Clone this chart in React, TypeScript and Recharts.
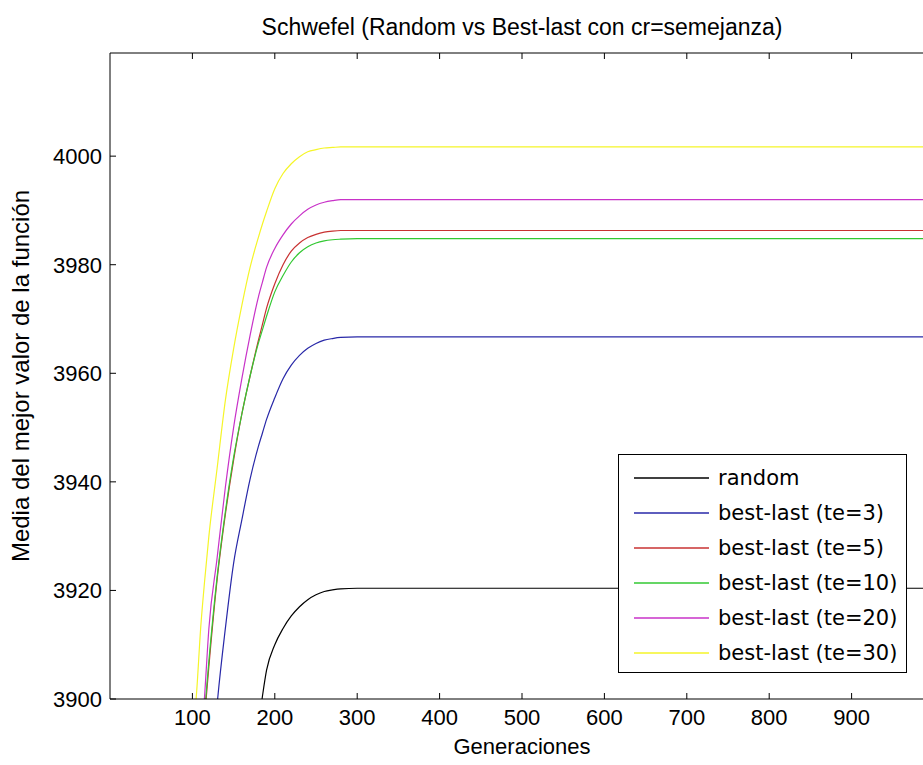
import React from 'react';
import { LineChart, Line, XAxis, YAxis, Legend } from 'recharts';

const generaciones = [100, 105, 110, 115, 120, 130, 140, 150, 160, 170, 180, 185, 190, 200, 210, 220, 230, 240, 250, 260, 270, 280, 300, 400, 600, 800, 1000];

const random = [null, null, null, null, null, null, null, null, null, 3884, 3895, 3900.5, 3905.3, 3910, 3913, 3915.3, 3917, 3918.3, 3919.2, 3919.8, 3920.1, 3920.3, 3920.4, 3920.4, 3920.4, 3920.4, 3920.4];
const te3 = [3830, 3845, 3858, 3869, 3880, 3899, 3913, 3925, 3933, 3940.5, 3946.5, 3949, 3951.5, 3955.5, 3959, 3961.5, 3963.3, 3964.6, 3965.5, 3966.1, 3966.4, 3966.6, 3966.7, 3966.7, 3966.7, 3966.7, 3966.7];
const te5 = [3862, 3876, 3888, 3897, 3906, 3922, 3934, 3944, 3952.5, 3959.5, 3966, 3969, 3972, 3976.5, 3980, 3982.5, 3984, 3985, 3985.6, 3986, 3986.2, 3986.3, 3986.3, 3986.3, 3986.3, 3986.3, 3986.3];
const te10 = [3862, 3877, 3889, 3898, 3907, 3922.5, 3934.5, 3944.5, 3952.5, 3959.5, 3965.5, 3968, 3970.5, 3975, 3978, 3980.5, 3982.2, 3983.3, 3984, 3984.4, 3984.6, 3984.7, 3984.8, 3984.8, 3984.8, 3984.8, 3984.8];
const te20 = [3870, 3881, 3890, 3901, 3913, 3926, 3939, 3950, 3959, 3967, 3974, 3976.8, 3979.5, 3983, 3985.5, 3987.5, 3989, 3990.2, 3991, 3991.5, 3991.8, 3992, 3992, 3992, 3992, 3992, 3992];
const te30 = [3893, 3901, 3913, 3922, 3930, 3942.5, 3955, 3964.5, 3972.5, 3979.5, 3985, 3987.5, 3989.8, 3994, 3996.8, 3998.6, 3999.9, 4000.8, 4001.2, 4001.5, 4001.6, 4001.7, 4001.7, 4001.7, 4001.7, 4001.7, 4001.7];

const xTicks = [100, 200, 300, 400, 500, 600, 700, 800, 900];
const yTicks = [3900, 3920, 3940, 3960, 3980, 4000];

const series = [
  { key: 'random', name: 'random', color: '#000000' },
  { key: 'te3', name: 'best-last (te=3)', color: '#2828a8' },
  { key: 'te5', name: 'best-last (te=5)', color: '#c83232' },
  { key: 'te10', name: 'best-last (te=10)', color: '#32c832' },
  { key: 'te20', name: 'best-last (te=20)', color: '#c832c8' },
  { key: 'te30', name: 'best-last (te=30)', color: '#f5f528' },
];

const data = generaciones.map((g, i) => ({
  g,
  random: random[i],
  te3: te3[i],
  te5: te5[i],
  te10: te10[i],
  te20: te20[i],
  te30: te30[i],
}));

const font = "'Liberation Sans', Arial, sans-serif";
const TICK = 6;
const X_MARGIN = 10;
const Y_MARGIN = 8;

// MATLAB style: ticks point into the plot box
const BottomTick = ({ x, y, payload }: any) => (
  <g>
    <line x1={x} x2={x} y1={y - X_MARGIN} y2={y - X_MARGIN - TICK} stroke="#000" />
    <text x={x} y={y} dy="0.71em" textAnchor="middle" fontSize={22} fontFamily={font} fill="#000">
      {payload.value}
    </text>
  </g>
);

const TopTick = ({ x, y }: any) => (
  <line x1={x} x2={x} y1={y} y2={y + TICK} stroke="#000" />
);

const LeftTick = ({ x, y, payload }: any) => (
  <g>
    <line x1={x + Y_MARGIN} x2={x + Y_MARGIN + TICK} y1={y} y2={y} stroke="#000" />
    <text x={x} y={y} dy="0.36em" textAnchor="end" fontSize={22} fontFamily={font} fill="#000">
      {payload.value}
    </text>
  </g>
);

const renderLegend = () => (
  <div
    style={{
      width: 287,
      height: 212,
      border: '1px solid #000',
      background: '#fff',
      paddingTop: 5,
      boxSizing: 'content-box',
      fontFamily: "'DejaVu Sans', sans-serif",
      fontSize: 21,
      color: '#000',
    }}
  >
    {series.map((s) => (
      <div key={s.key} style={{ display: 'flex', alignItems: 'center', height: 35 }}>
        <svg width={99} height={4} style={{ flex: 'none' }}>
          <line x1={15} x2={90} y1={2} y2={2} stroke={s.color} strokeWidth={1.5} />
        </svg>
        <span style={{ whiteSpace: 'nowrap' }}>{s.name}</span>
      </div>
    ))}
  </div>
);

const YLabel = (props: any) => {
  const { viewBox } = props;
  const x = 20;
  const y = viewBox.y + viewBox.height / 2;
  return (
    <text x={x} y={y} transform={`rotate(-90 ${x} ${y})`} textAnchor="middle" dominantBaseline="central" fontSize={24} fontFamily={font} fill="#000">
      Media del mejor valor de la función
    </text>
  );
};

const Title = (props: any) => {
  const { viewBox } = props;
  const x = viewBox.x + viewBox.width / 2;
  return (
    <text x={x} y={27} textAnchor="middle" dominantBaseline="central" fontSize={23} fontFamily={font} fill="#000">
      Schwefel (Random vs Best-last con cr=semejanza)
    </text>
  );
};

const XLabel = (props: any) => {
  const { viewBox } = props;
  const x = viewBox.x + viewBox.width / 2;
  return (
    <text x={x} y={746} textAnchor="middle" dominantBaseline="central" fontSize={22} fontFamily={font} fill="#000">
      Generaciones
    </text>
  );
};

export default function App() {
  return (
    <div style={{ position: 'fixed', left: 0, top: 0, width: 923, height: 765, overflow: 'hidden', background: '#fff' }}>
      <LineChart
        width={950}
        height={765}
        data={data}
        margin={{ top: 52, right: 16, bottom: 36, left: 50 }}
        style={{ fontFamily: font }}
      >
        <XAxis
          dataKey="g"
          type="number"
          domain={[0, 1000]}
          ticks={xTicks}
          height={30}
          tickSize={0}
          tickMargin={X_MARGIN}
          axisLine={{ stroke: '#000' }}
          tickLine={false}
          tick={<BottomTick />}
          label={<XLabel />}
        />
        <XAxis
          xAxisId="top"
          orientation="top"
          dataKey="g"
          type="number"
          domain={[0, 1000]}
          ticks={xTicks}
          height={1}
          tickSize={0}
          tickMargin={0}
          axisLine={{ stroke: '#000' }}
          tickLine={false}
          tick={<TopTick />}
          label={<Title />}
        />
        <YAxis
          type="number"
          domain={[3900, 4019]}
          ticks={yTicks}
          allowDataOverflow
          width={60}
          tickSize={0}
          tickMargin={Y_MARGIN}
          axisLine={{ stroke: '#000' }}
          tickLine={false}
          tick={<LeftTick />}
          label={<YLabel />}
        />
        <Legend
          layout="vertical"
          align="center"
          verticalAlign="middle"
          content={renderLegend}
          wrapperStyle={{ left: 618, top: 454, width: 290 }}
        />
        <Line
          xAxisId="top"
          dataKey="te30"
          stroke="none"
          dot={false}
          activeDot={false}
          legendType="none"
          isAnimationActive={false}
        />
        {series.map((s) => (
          <Line
            key={s.key}
            type="monotone"
            dataKey={s.key}
            name={s.name}
            stroke={s.color}
            strokeWidth={1.2}
            dot={false}
            activeDot={false}
            isAnimationActive={false}
          />
        ))}
      </LineChart>
    </div>
  );
}
